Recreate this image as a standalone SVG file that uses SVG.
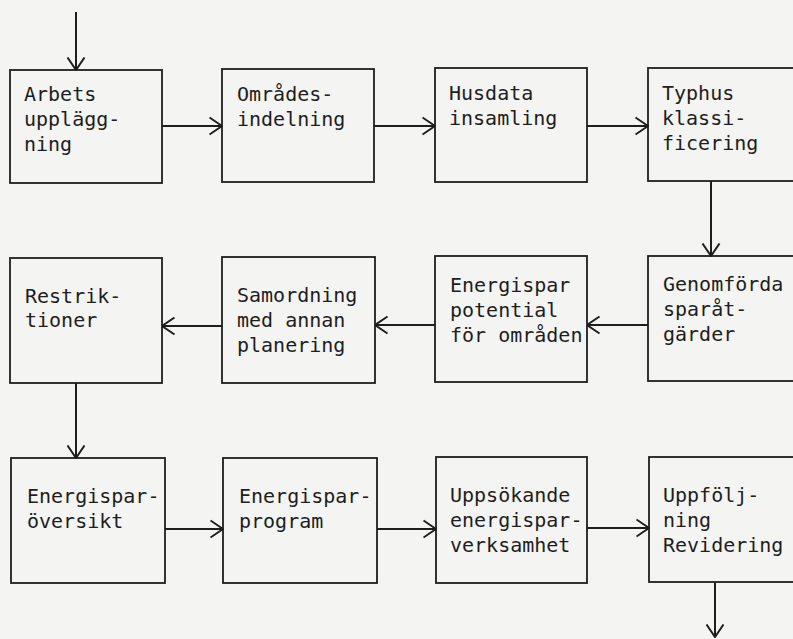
<svg xmlns="http://www.w3.org/2000/svg" width="793" height="639" viewBox="0 0 793 639">
<style>
.box{fill:none;stroke:#1e1e1e;stroke-width:1.8}
.lbl{font-family:"DejaVu Sans Mono","Liberation Mono",monospace;font-size:20px;fill:#1e1e1e}
.con{fill:none;stroke:#1e1e1e;stroke-width:2;marker-end:url(#ah)}
</style>
<defs>
<marker id="ah" markerUnits="userSpaceOnUse" viewBox="0 0 14 20" refX="13.5" refY="10" markerWidth="14" markerHeight="20" orient="auto">
<path d="M1,1.5 L13.5,10 L1,18.5" fill="none" stroke="#1e1e1e" stroke-width="2"/>
</marker>
</defs>
<rect x="0" y="0" width="793" height="639" fill="#f4f4f2"/>
<g id="n1"><rect class="box" x="10" y="70" width="152" height="113"/><text class="lbl" x="24" y="101">Arbets</text><text class="lbl" x="24" y="126">upplägg-</text><text class="lbl" x="24" y="151">ning</text></g>
<g id="n2"><rect class="box" x="222" y="69" width="152" height="113"/><text class="lbl" x="237" y="101">Områdes-</text><text class="lbl" x="237" y="126">indelning</text></g>
<g id="n3"><rect class="box" x="435" y="68" width="152" height="114"/><text class="lbl" x="449" y="100">Husdata</text><text class="lbl" x="449" y="125">insamling</text></g>
<g id="n4"><rect class="box" x="648" y="68" width="160" height="113"/><text class="lbl" x="662" y="100">Typhus</text><text class="lbl" x="662" y="125">klassi-</text><text class="lbl" x="662" y="150">ficering</text></g>
<g id="n5"><rect class="box" x="648" y="256" width="160" height="125"/><text class="lbl" x="663" y="291">Genomförda</text><text class="lbl" x="663" y="316">sparåt-</text><text class="lbl" x="663" y="341">gärder</text></g>
<g id="n6"><rect class="box" x="435" y="256" width="152" height="126"/><text class="lbl" x="450" y="292">Energispar</text><text class="lbl" x="450" y="317">potential</text><text class="lbl" x="450" y="342">för områden</text></g>
<g id="n7"><rect class="box" x="222" y="257" width="153" height="126"/><text class="lbl" x="237" y="302">Samordning</text><text class="lbl" x="237" y="327">med annan</text><text class="lbl" x="237" y="352">planering</text></g>
<g id="n8"><rect class="box" x="10" y="258" width="152" height="125"/><text class="lbl" x="25" y="303">Restrik-</text><text class="lbl" x="25" y="327">tioner</text></g>
<g id="n9"><rect class="box" x="11" y="458" width="154" height="125"/><text class="lbl" x="27" y="503">Energispar-</text><text class="lbl" x="27" y="528">översikt</text></g>
<g id="n10"><rect class="box" x="223" y="458" width="154" height="125"/><text class="lbl" x="239" y="503">Energispar-</text><text class="lbl" x="239" y="528">program</text></g>
<g id="n11"><rect class="box" x="436" y="457" width="151" height="126"/><text class="lbl" x="450" y="502">Uppsökande</text><text class="lbl" x="450" y="527">energispar-</text><text class="lbl" x="450" y="552">verksamhet</text></g>
<g id="n12"><rect class="box" x="649" y="457" width="160" height="125"/><text class="lbl" x="663" y="502">Uppfölj-</text><text class="lbl" x="663" y="527">ning</text><text class="lbl" x="663" y="552">Revidering</text></g>
<g id="connectors">
<path class="con" d="M76,12 L76,70"/>
<path class="con" d="M162,126 L222,126"/>
<path class="con" d="M374,126 L435,126"/>
<path class="con" d="M587,126 L648,126"/>
<path class="con" d="M711,181 L711,256"/>
<path class="con" d="M648,325 L587,325"/>
<path class="con" d="M435,325 L375,325"/>
<path class="con" d="M222,326 L162,326"/>
<path class="con" d="M76,383 L76,458"/>
<path class="con" d="M165,529 L223,529"/>
<path class="con" d="M377,529 L436,529"/>
<path class="con" d="M587,528 L649,528"/>
<path class="con" d="M715,583 L715,637"/>
</g>
</svg>
